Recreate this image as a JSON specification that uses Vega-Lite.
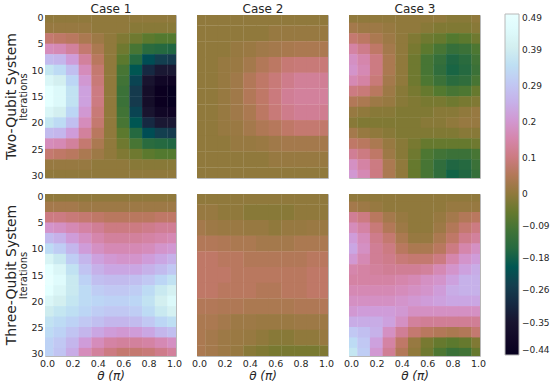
{"$schema":"https://vega.github.io/schema/vega-lite/v6.json","padding":{"left":4,"top":1,"right":0,"bottom":0},"background":"white",
"config":{"font":"DejaVu Sans","view":{"stroke":"#b8b8b8","strokeWidth":1},"axis":{"grid":false,"domain":false,"ticks":false,"labelFontSize":9.5,"labelColor":"#262626","labelPadding":2,"titleColor":"#262626"},"title":{"color":"#262626"}},
"datasets":{
"a":[
{"t":0,"i":0,"v":0},{"t":0.1,"i":0,"v":0},{"t":0.2,"i":0,"v":0},{"t":0.3,"i":0,"v":0},{"t":0.4,"i":0,"v":0},{"t":0.5,"i":0,"v":0},{"t":0.6,"i":0,"v":0},{"t":0.7,"i":0,"v":0},{"t":0.8,"i":0,"v":0},{"t":0.9,"i":0,"v":0},{"t":1,"i":0,"v":0},
{"t":0,"i":2,"v":0.01},{"t":0.1,"i":2,"v":0.01},{"t":0.2,"i":2,"v":0.01},{"t":0.3,"i":2,"v":0.01},{"t":0.4,"i":2,"v":0},{"t":0.5,"i":2,"v":0},{"t":0.6,"i":2,"v":0},{"t":0.7,"i":2,"v":-0.01},{"t":0.8,"i":2,"v":-0.01},{"t":0.9,"i":2,"v":-0.01},{"t":1,"i":2,"v":-0.01},
{"t":0,"i":4,"v":0.08},{"t":0.1,"i":4,"v":0.07},{"t":0.2,"i":4,"v":0.06},{"t":0.3,"i":4,"v":0.04},{"t":0.4,"i":4,"v":0.02},{"t":0.5,"i":4,"v":0},{"t":0.6,"i":4,"v":-0.02},{"t":0.7,"i":4,"v":-0.04},{"t":0.8,"i":4,"v":-0.06},{"t":0.9,"i":4,"v":-0.07},{"t":1,"i":4,"v":-0.07},
{"t":0,"i":6,"v":0.17},{"t":0.1,"i":6,"v":0.16},{"t":0.2,"i":6,"v":0.13},{"t":0.3,"i":6,"v":0.08},{"t":0.4,"i":6,"v":0.04},{"t":0.5,"i":6,"v":0},{"t":0.6,"i":6,"v":-0.04},{"t":0.7,"i":6,"v":-0.09},{"t":0.8,"i":6,"v":-0.14},{"t":0.9,"i":6,"v":-0.15},{"t":1,"i":6,"v":-0.16},
{"t":0,"i":8,"v":0.27},{"t":0.1,"i":8,"v":0.26},{"t":0.2,"i":8,"v":0.21},{"t":0.3,"i":8,"v":0.13},{"t":0.4,"i":8,"v":0.06},{"t":0.5,"i":8,"v":0},{"t":0.6,"i":8,"v":-0.06},{"t":0.7,"i":8,"v":-0.15},{"t":0.8,"i":8,"v":-0.22},{"t":0.9,"i":8,"v":-0.25},{"t":1,"i":8,"v":-0.26},
{"t":0,"i":10,"v":0.37},{"t":0.1,"i":10,"v":0.34},{"t":0.2,"i":10,"v":0.28},{"t":0.3,"i":10,"v":0.17},{"t":0.4,"i":10,"v":0.08},{"t":0.5,"i":10,"v":0},{"t":0.6,"i":10,"v":-0.09},{"t":0.7,"i":10,"v":-0.2},{"t":0.8,"i":10,"v":-0.3},{"t":0.9,"i":10,"v":-0.34},{"t":1,"i":10,"v":-0.34},
{"t":0,"i":12,"v":0.43},{"t":0.1,"i":12,"v":0.4},{"t":0.2,"i":12,"v":0.33},{"t":0.3,"i":12,"v":0.2},{"t":0.4,"i":12,"v":0.09},{"t":0.5,"i":12,"v":0},{"t":0.6,"i":12,"v":-0.1},{"t":0.7,"i":12,"v":-0.24},{"t":0.8,"i":12,"v":-0.35},{"t":0.9,"i":12,"v":-0.4},{"t":1,"i":12,"v":-0.41},
{"t":0,"i":14,"v":0.47},{"t":0.1,"i":14,"v":0.44},{"t":0.2,"i":14,"v":0.36},{"t":0.3,"i":14,"v":0.22},{"t":0.4,"i":14,"v":0.1},{"t":0.5,"i":14,"v":0},{"t":0.6,"i":14,"v":-0.11},{"t":0.7,"i":14,"v":-0.26},{"t":0.8,"i":14,"v":-0.38},{"t":0.9,"i":14,"v":-0.43},{"t":1,"i":14,"v":-0.44},
{"t":0,"i":16,"v":0.47},{"t":0.1,"i":16,"v":0.44},{"t":0.2,"i":16,"v":0.36},{"t":0.3,"i":16,"v":0.22},{"t":0.4,"i":16,"v":0.1},{"t":0.5,"i":16,"v":0},{"t":0.6,"i":16,"v":-0.11},{"t":0.7,"i":16,"v":-0.26},{"t":0.8,"i":16,"v":-0.38},{"t":0.9,"i":16,"v":-0.43},{"t":1,"i":16,"v":-0.44},
{"t":0,"i":18,"v":0.43},{"t":0.1,"i":18,"v":0.4},{"t":0.2,"i":18,"v":0.33},{"t":0.3,"i":18,"v":0.2},{"t":0.4,"i":18,"v":0.09},{"t":0.5,"i":18,"v":0},{"t":0.6,"i":18,"v":-0.1},{"t":0.7,"i":18,"v":-0.24},{"t":0.8,"i":18,"v":-0.35},{"t":0.9,"i":18,"v":-0.4},{"t":1,"i":18,"v":-0.41},
{"t":0,"i":20,"v":0.37},{"t":0.1,"i":20,"v":0.34},{"t":0.2,"i":20,"v":0.28},{"t":0.3,"i":20,"v":0.17},{"t":0.4,"i":20,"v":0.08},{"t":0.5,"i":20,"v":0},{"t":0.6,"i":20,"v":-0.09},{"t":0.7,"i":20,"v":-0.2},{"t":0.8,"i":20,"v":-0.3},{"t":0.9,"i":20,"v":-0.34},{"t":1,"i":20,"v":-0.34},
{"t":0,"i":22,"v":0.27},{"t":0.1,"i":22,"v":0.26},{"t":0.2,"i":22,"v":0.21},{"t":0.3,"i":22,"v":0.13},{"t":0.4,"i":22,"v":0.06},{"t":0.5,"i":22,"v":0},{"t":0.6,"i":22,"v":-0.06},{"t":0.7,"i":22,"v":-0.15},{"t":0.8,"i":22,"v":-0.22},{"t":0.9,"i":22,"v":-0.25},{"t":1,"i":22,"v":-0.26},
{"t":0,"i":24,"v":0.17},{"t":0.1,"i":24,"v":0.16},{"t":0.2,"i":24,"v":0.13},{"t":0.3,"i":24,"v":0.08},{"t":0.4,"i":24,"v":0.04},{"t":0.5,"i":24,"v":0},{"t":0.6,"i":24,"v":-0.04},{"t":0.7,"i":24,"v":-0.09},{"t":0.8,"i":24,"v":-0.14},{"t":0.9,"i":24,"v":-0.15},{"t":1,"i":24,"v":-0.16},
{"t":0,"i":26,"v":0.08},{"t":0.1,"i":26,"v":0.07},{"t":0.2,"i":26,"v":0.06},{"t":0.3,"i":26,"v":0.04},{"t":0.4,"i":26,"v":0.02},{"t":0.5,"i":26,"v":0},{"t":0.6,"i":26,"v":-0.02},{"t":0.7,"i":26,"v":-0.04},{"t":0.8,"i":26,"v":-0.06},{"t":0.9,"i":26,"v":-0.07},{"t":1,"i":26,"v":-0.07},
{"t":0,"i":28,"v":0.01},{"t":0.1,"i":28,"v":0.01},{"t":0.2,"i":28,"v":0.01},{"t":0.3,"i":28,"v":0.01},{"t":0.4,"i":28,"v":0},{"t":0.5,"i":28,"v":0},{"t":0.6,"i":28,"v":0},{"t":0.7,"i":28,"v":-0.01},{"t":0.8,"i":28,"v":-0.01},{"t":0.9,"i":28,"v":-0.01},{"t":1,"i":28,"v":-0.01},
{"t":0,"i":30,"v":0},{"t":0.1,"i":30,"v":0},{"t":0.2,"i":30,"v":0},{"t":0.3,"i":30,"v":0},{"t":0.4,"i":30,"v":0},{"t":0.5,"i":30,"v":0},{"t":0.6,"i":30,"v":0},{"t":0.7,"i":30,"v":0},{"t":0.8,"i":30,"v":0},{"t":0.9,"i":30,"v":0},{"t":1,"i":30,"v":0}],
"b":[
{"t":0,"i":0,"v":0},{"t":0.1,"i":0,"v":0},{"t":0.2,"i":0,"v":0},{"t":0.3,"i":0,"v":0},{"t":0.4,"i":0,"v":0},{"t":0.5,"i":0,"v":0},{"t":0.6,"i":0,"v":0},{"t":0.7,"i":0,"v":0},{"t":0.8,"i":0,"v":0},{"t":0.9,"i":0,"v":0},{"t":1,"i":0,"v":0},
{"t":0,"i":3,"v":0},{"t":0.1,"i":3,"v":0},{"t":0.2,"i":3,"v":0},{"t":0.3,"i":3,"v":0},{"t":0.4,"i":3,"v":0},{"t":0.5,"i":3,"v":0},{"t":0.6,"i":3,"v":0.01},{"t":0.7,"i":3,"v":0.01},{"t":0.8,"i":3,"v":0.01},{"t":0.9,"i":3,"v":0.01},{"t":1,"i":3,"v":0.01},
{"t":0,"i":6,"v":0},{"t":0.1,"i":6,"v":0},{"t":0.2,"i":6,"v":0},{"t":0.3,"i":6,"v":0.01},{"t":0.4,"i":6,"v":0.015},{"t":0.5,"i":6,"v":0.025},{"t":0.6,"i":6,"v":0.03},{"t":0.7,"i":6,"v":0.035},{"t":0.8,"i":6,"v":0.04},{"t":0.9,"i":6,"v":0.04},{"t":1,"i":6,"v":0.04},
{"t":0,"i":9,"v":0},{"t":0.1,"i":9,"v":0},{"t":0.2,"i":9,"v":0.01},{"t":0.3,"i":9,"v":0.015},{"t":0.4,"i":9,"v":0.03},{"t":0.5,"i":9,"v":0.05},{"t":0.6,"i":9,"v":0.065},{"t":0.7,"i":9,"v":0.085},{"t":0.8,"i":9,"v":0.09},{"t":0.9,"i":9,"v":0.09},{"t":1,"i":9,"v":0.09},
{"t":0,"i":12,"v":0},{"t":0.1,"i":12,"v":0},{"t":0.2,"i":12,"v":0.01},{"t":0.3,"i":12,"v":0.025},{"t":0.4,"i":12,"v":0.05},{"t":0.5,"i":12,"v":0.07},{"t":0.6,"i":12,"v":0.09},{"t":0.7,"i":12,"v":0.11},{"t":0.8,"i":12,"v":0.125},{"t":0.9,"i":12,"v":0.125},{"t":1,"i":12,"v":0.12},
{"t":0,"i":15,"v":0},{"t":0.1,"i":15,"v":0},{"t":0.2,"i":15,"v":0.01},{"t":0.3,"i":15,"v":0.025},{"t":0.4,"i":15,"v":0.05},{"t":0.5,"i":15,"v":0.07},{"t":0.6,"i":15,"v":0.095},{"t":0.7,"i":15,"v":0.12},{"t":0.8,"i":15,"v":0.13},{"t":0.9,"i":15,"v":0.13},{"t":1,"i":15,"v":0.13},
{"t":0,"i":18,"v":0},{"t":0.1,"i":18,"v":0},{"t":0.2,"i":18,"v":0.01},{"t":0.3,"i":18,"v":0.025},{"t":0.4,"i":18,"v":0.04},{"t":0.5,"i":18,"v":0.065},{"t":0.6,"i":18,"v":0.09},{"t":0.7,"i":18,"v":0.11},{"t":0.8,"i":18,"v":0.12},{"t":0.9,"i":18,"v":0.12},{"t":1,"i":18,"v":0.115},
{"t":0,"i":21,"v":0},{"t":0.1,"i":21,"v":0},{"t":0.2,"i":21,"v":0.01},{"t":0.3,"i":21,"v":0.015},{"t":0.4,"i":21,"v":0.03},{"t":0.5,"i":21,"v":0.045},{"t":0.6,"i":21,"v":0.055},{"t":0.7,"i":21,"v":0.07},{"t":0.8,"i":21,"v":0.08},{"t":0.9,"i":21,"v":0.08},{"t":1,"i":21,"v":0.075},
{"t":0,"i":24,"v":0},{"t":0.1,"i":24,"v":0},{"t":0.2,"i":24,"v":0},{"t":0.3,"i":24,"v":0.01},{"t":0.4,"i":24,"v":0.01},{"t":0.5,"i":24,"v":0.015},{"t":0.6,"i":24,"v":0.025},{"t":0.7,"i":24,"v":0.03},{"t":0.8,"i":24,"v":0.03},{"t":0.9,"i":24,"v":0.03},{"t":1,"i":24,"v":0.03},
{"t":0,"i":27,"v":0},{"t":0.1,"i":27,"v":0},{"t":0.2,"i":27,"v":0},{"t":0.3,"i":27,"v":0},{"t":0.4,"i":27,"v":0},{"t":0.5,"i":27,"v":0},{"t":0.6,"i":27,"v":0.01},{"t":0.7,"i":27,"v":0.01},{"t":0.8,"i":27,"v":0.01},{"t":0.9,"i":27,"v":0.01},{"t":1,"i":27,"v":0.01},
{"t":0,"i":30,"v":0},{"t":0.1,"i":30,"v":0},{"t":0.2,"i":30,"v":0},{"t":0.3,"i":30,"v":0},{"t":0.4,"i":30,"v":0},{"t":0.5,"i":30,"v":0},{"t":0.6,"i":30,"v":0},{"t":0.7,"i":30,"v":0},{"t":0.8,"i":30,"v":0},{"t":0.9,"i":30,"v":0},{"t":1,"i":30,"v":0}],
"c":[
{"t":0,"i":0,"v":0},{"t":0.1,"i":0,"v":0},{"t":0.2,"i":0,"v":0},{"t":0.3,"i":0,"v":0},{"t":0.4,"i":0,"v":0},{"t":0.5,"i":0,"v":0},{"t":0.6,"i":0,"v":0},{"t":0.7,"i":0,"v":0},{"t":0.8,"i":0,"v":-0.01},{"t":0.9,"i":0,"v":-0.01},{"t":1,"i":0,"v":0},
{"t":0,"i":2,"v":0.03},{"t":0.1,"i":2,"v":0.02},{"t":0.2,"i":2,"v":0.02},{"t":0.3,"i":2,"v":0.01},{"t":0.4,"i":2,"v":0},{"t":0.5,"i":2,"v":0},{"t":0.6,"i":2,"v":-0.01},{"t":0.7,"i":2,"v":-0.02},{"t":0.8,"i":2,"v":-0.02},{"t":0.9,"i":2,"v":-0.02},{"t":1,"i":2,"v":-0.01},
{"t":0,"i":4,"v":0.08},{"t":0.1,"i":4,"v":0.065},{"t":0.2,"i":4,"v":0.04},{"t":0.3,"i":4,"v":0.02},{"t":0.4,"i":4,"v":0},{"t":0.5,"i":4,"v":-0.02},{"t":0.6,"i":4,"v":-0.04},{"t":0.7,"i":4,"v":-0.05},{"t":0.8,"i":4,"v":-0.07},{"t":0.9,"i":4,"v":-0.06},{"t":1,"i":4,"v":-0.04},
{"t":0,"i":6,"v":0.14},{"t":0.1,"i":6,"v":0.11},{"t":0.2,"i":6,"v":0.07},{"t":0.3,"i":6,"v":0.03},{"t":0.4,"i":6,"v":0},{"t":0.5,"i":6,"v":-0.03},{"t":0.6,"i":6,"v":-0.06},{"t":0.7,"i":6,"v":-0.09},{"t":0.8,"i":6,"v":-0.12},{"t":0.9,"i":6,"v":-0.11},{"t":1,"i":6,"v":-0.08},
{"t":0,"i":8,"v":0.18},{"t":0.1,"i":8,"v":0.15},{"t":0.2,"i":8,"v":0.1},{"t":0.3,"i":8,"v":0.04},{"t":0.4,"i":8,"v":0},{"t":0.5,"i":8,"v":-0.04},{"t":0.6,"i":8,"v":-0.09},{"t":0.7,"i":8,"v":-0.12},{"t":0.8,"i":8,"v":-0.16},{"t":0.9,"i":8,"v":-0.14},{"t":1,"i":8,"v":-0.1},
{"t":0,"i":10,"v":0.19},{"t":0.1,"i":10,"v":0.16},{"t":0.2,"i":10,"v":0.1},{"t":0.3,"i":10,"v":0.04},{"t":0.4,"i":10,"v":0},{"t":0.5,"i":10,"v":-0.04},{"t":0.6,"i":10,"v":-0.09},{"t":0.7,"i":10,"v":-0.13},{"t":0.8,"i":10,"v":-0.165},{"t":0.9,"i":10,"v":-0.15},{"t":1,"i":10,"v":-0.11},
{"t":0,"i":12,"v":0.16},{"t":0.1,"i":12,"v":0.14},{"t":0.2,"i":12,"v":0.09},{"t":0.3,"i":12,"v":0.03},{"t":0.4,"i":12,"v":0},{"t":0.5,"i":12,"v":-0.04},{"t":0.6,"i":12,"v":-0.08},{"t":0.7,"i":12,"v":-0.11},{"t":0.8,"i":12,"v":-0.14},{"t":0.9,"i":12,"v":-0.13},{"t":1,"i":12,"v":-0.09},
{"t":0,"i":14,"v":0.1},{"t":0.1,"i":14,"v":0.09},{"t":0.2,"i":14,"v":0.06},{"t":0.3,"i":14,"v":0.02},{"t":0.4,"i":14,"v":-0.01},{"t":0.5,"i":14,"v":-0.03},{"t":0.6,"i":14,"v":-0.05},{"t":0.7,"i":14,"v":-0.07},{"t":0.8,"i":14,"v":-0.09},{"t":0.9,"i":14,"v":-0.08},{"t":1,"i":14,"v":-0.05},
{"t":0,"i":16,"v":0.05},{"t":0.1,"i":16,"v":0.04},{"t":0.2,"i":16,"v":0.02},{"t":0.3,"i":16,"v":0.01},{"t":0.4,"i":16,"v":-0.01},{"t":0.5,"i":16,"v":-0.02},{"t":0.6,"i":16,"v":-0.03},{"t":0.7,"i":16,"v":-0.03},{"t":0.8,"i":16,"v":-0.04},{"t":0.9,"i":16,"v":-0.03},{"t":1,"i":16,"v":-0.02},
{"t":0,"i":18,"v":0.01},{"t":0.1,"i":18,"v":0},{"t":0.2,"i":18,"v":-0.01},{"t":0.3,"i":18,"v":-0.01},{"t":0.4,"i":18,"v":-0.02},{"t":0.5,"i":18,"v":-0.02},{"t":0.6,"i":18,"v":-0.02},{"t":0.7,"i":18,"v":-0.01},{"t":0.8,"i":18,"v":-0.01},{"t":0.9,"i":18,"v":0},{"t":1,"i":18,"v":0.01},
{"t":0,"i":20,"v":-0.01},{"t":0.1,"i":20,"v":-0.02},{"t":0.2,"i":20,"v":-0.02},{"t":0.3,"i":20,"v":-0.02},{"t":0.4,"i":20,"v":-0.02},{"t":0.5,"i":20,"v":-0.02},{"t":0.6,"i":20,"v":-0.01},{"t":0.7,"i":20,"v":-0.01},{"t":0.8,"i":20,"v":0},{"t":0.9,"i":20,"v":0.01},{"t":1,"i":20,"v":0.01},
{"t":0,"i":22,"v":0.03},{"t":0.1,"i":22,"v":0.01},{"t":0.2,"i":22,"v":0},{"t":0.3,"i":22,"v":-0.01},{"t":0.4,"i":22,"v":-0.02},{"t":0.5,"i":22,"v":-0.02},{"t":0.6,"i":22,"v":-0.02},{"t":0.7,"i":22,"v":-0.02},{"t":0.8,"i":22,"v":-0.02},{"t":0.9,"i":22,"v":-0.01},{"t":1,"i":22,"v":-0.01},
{"t":0,"i":24,"v":0.07},{"t":0.1,"i":24,"v":0.06},{"t":0.2,"i":24,"v":0.04},{"t":0.3,"i":24,"v":0.01},{"t":0.4,"i":24,"v":-0.01},{"t":0.5,"i":24,"v":-0.03},{"t":0.6,"i":24,"v":-0.05},{"t":0.7,"i":24,"v":-0.05},{"t":0.8,"i":24,"v":-0.05},{"t":0.9,"i":24,"v":-0.05},{"t":1,"i":24,"v":-0.04},
{"t":0,"i":26,"v":0.12},{"t":0.1,"i":26,"v":0.1},{"t":0.2,"i":26,"v":0.07},{"t":0.3,"i":26,"v":0.02},{"t":0.4,"i":26,"v":-0.01},{"t":0.5,"i":26,"v":-0.04},{"t":0.6,"i":26,"v":-0.08},{"t":0.7,"i":26,"v":-0.1},{"t":0.8,"i":26,"v":-0.11},{"t":0.9,"i":26,"v":-0.11},{"t":1,"i":26,"v":-0.09},
{"t":0,"i":28,"v":0.18},{"t":0.1,"i":28,"v":0.14},{"t":0.2,"i":28,"v":0.1},{"t":0.3,"i":28,"v":0.04},{"t":0.4,"i":28,"v":0},{"t":0.5,"i":28,"v":-0.05},{"t":0.6,"i":28,"v":-0.09},{"t":0.7,"i":28,"v":-0.13},{"t":0.8,"i":28,"v":-0.16},{"t":0.9,"i":28,"v":-0.15},{"t":1,"i":28,"v":-0.11},
{"t":0,"i":30,"v":0.2},{"t":0.1,"i":30,"v":0.16},{"t":0.2,"i":30,"v":0.1},{"t":0.3,"i":30,"v":0.04},{"t":0.4,"i":30,"v":0},{"t":0.5,"i":30,"v":-0.05},{"t":0.6,"i":30,"v":-0.09},{"t":0.7,"i":30,"v":-0.13},{"t":0.8,"i":30,"v":-0.17},{"t":0.9,"i":30,"v":-0.16},{"t":1,"i":30,"v":-0.12}],
"d":[
{"t":0,"i":0,"v":0},{"t":0.1,"i":0,"v":0},{"t":0.2,"i":0,"v":0},{"t":0.3,"i":0,"v":0},{"t":0.4,"i":0,"v":0},{"t":0.5,"i":0,"v":0},{"t":0.6,"i":0,"v":0},{"t":0.7,"i":0,"v":0},{"t":0.8,"i":0,"v":0},{"t":0.9,"i":0,"v":0},{"t":1,"i":0,"v":0},
{"t":0,"i":2,"v":0.03},{"t":0.1,"i":2,"v":0.03},{"t":0.2,"i":2,"v":0.03},{"t":0.3,"i":2,"v":0.02},{"t":0.4,"i":2,"v":0.02},{"t":0.5,"i":2,"v":0.02},{"t":0.6,"i":2,"v":0.02},{"t":0.7,"i":2,"v":0.02},{"t":0.8,"i":2,"v":0.02},{"t":0.9,"i":2,"v":0.02},{"t":1,"i":2,"v":0.02},
{"t":0,"i":4,"v":0.1},{"t":0.1,"i":4,"v":0.1},{"t":0.2,"i":4,"v":0.09},{"t":0.3,"i":4,"v":0.08},{"t":0.4,"i":4,"v":0.07},{"t":0.5,"i":4,"v":0.06},{"t":0.6,"i":4,"v":0.06},{"t":0.7,"i":4,"v":0.06},{"t":0.8,"i":4,"v":0.06},{"t":0.9,"i":4,"v":0.07},{"t":1,"i":4,"v":0.07},
{"t":0,"i":6,"v":0.19},{"t":0.1,"i":6,"v":0.18},{"t":0.2,"i":6,"v":0.16},{"t":0.3,"i":6,"v":0.14},{"t":0.4,"i":6,"v":0.12},{"t":0.5,"i":6,"v":0.1},{"t":0.6,"i":6,"v":0.1},{"t":0.7,"i":6,"v":0.1},{"t":0.8,"i":6,"v":0.11},{"t":0.9,"i":6,"v":0.12},{"t":1,"i":6,"v":0.12},
{"t":0,"i":8,"v":0.27},{"t":0.1,"i":8,"v":0.25},{"t":0.2,"i":8,"v":0.21},{"t":0.3,"i":8,"v":0.18},{"t":0.4,"i":8,"v":0.15},{"t":0.5,"i":8,"v":0.13},{"t":0.6,"i":8,"v":0.13},{"t":0.7,"i":8,"v":0.13},{"t":0.8,"i":8,"v":0.14},{"t":0.9,"i":8,"v":0.15},{"t":1,"i":8,"v":0.16},
{"t":0,"i":10,"v":0.34},{"t":0.1,"i":10,"v":0.31},{"t":0.2,"i":10,"v":0.26},{"t":0.3,"i":10,"v":0.21},{"t":0.4,"i":10,"v":0.18},{"t":0.5,"i":10,"v":0.16},{"t":0.6,"i":10,"v":0.16},{"t":0.7,"i":10,"v":0.16},{"t":0.8,"i":10,"v":0.17},{"t":0.9,"i":10,"v":0.19},{"t":1,"i":10,"v":0.2},
{"t":0,"i":12,"v":0.42},{"t":0.1,"i":12,"v":0.38},{"t":0.2,"i":12,"v":0.31},{"t":0.3,"i":12,"v":0.26},{"t":0.4,"i":12,"v":0.22},{"t":0.5,"i":12,"v":0.2},{"t":0.6,"i":12,"v":0.19},{"t":0.7,"i":12,"v":0.19},{"t":0.8,"i":12,"v":0.21},{"t":0.9,"i":12,"v":0.23},{"t":1,"i":12,"v":0.25},
{"t":0,"i":14,"v":0.47},{"t":0.1,"i":14,"v":0.43},{"t":0.2,"i":14,"v":0.36},{"t":0.3,"i":14,"v":0.29},{"t":0.4,"i":14,"v":0.25},{"t":0.5,"i":14,"v":0.23},{"t":0.6,"i":14,"v":0.23},{"t":0.7,"i":14,"v":0.23},{"t":0.8,"i":14,"v":0.25},{"t":0.9,"i":14,"v":0.27},{"t":1,"i":14,"v":0.3},
{"t":0,"i":16,"v":0.49},{"t":0.1,"i":16,"v":0.45},{"t":0.2,"i":16,"v":0.38},{"t":0.3,"i":16,"v":0.32},{"t":0.4,"i":16,"v":0.28},{"t":0.5,"i":16,"v":0.27},{"t":0.6,"i":16,"v":0.27},{"t":0.7,"i":16,"v":0.28},{"t":0.8,"i":16,"v":0.3},{"t":0.9,"i":16,"v":0.33},{"t":1,"i":16,"v":0.36},
{"t":0,"i":18,"v":0.47},{"t":0.1,"i":18,"v":0.43},{"t":0.2,"i":18,"v":0.38},{"t":0.3,"i":18,"v":0.34},{"t":0.4,"i":18,"v":0.31},{"t":0.5,"i":18,"v":0.3},{"t":0.6,"i":18,"v":0.3},{"t":0.7,"i":18,"v":0.31},{"t":0.8,"i":18,"v":0.34},{"t":0.9,"i":18,"v":0.38},{"t":1,"i":18,"v":0.41},
{"t":0,"i":20,"v":0.43},{"t":0.1,"i":20,"v":0.4},{"t":0.2,"i":20,"v":0.37},{"t":0.3,"i":20,"v":0.34},{"t":0.4,"i":20,"v":0.33},{"t":0.5,"i":20,"v":0.32},{"t":0.6,"i":20,"v":0.32},{"t":0.7,"i":20,"v":0.33},{"t":0.8,"i":20,"v":0.36},{"t":0.9,"i":20,"v":0.4},{"t":1,"i":20,"v":0.44},
{"t":0,"i":22,"v":0.39},{"t":0.1,"i":22,"v":0.37},{"t":0.2,"i":22,"v":0.35},{"t":0.3,"i":22,"v":0.33},{"t":0.4,"i":22,"v":0.31},{"t":0.5,"i":22,"v":0.3},{"t":0.6,"i":22,"v":0.3},{"t":0.7,"i":22,"v":0.31},{"t":0.8,"i":22,"v":0.34},{"t":0.9,"i":22,"v":0.38},{"t":1,"i":22,"v":0.41},
{"t":0,"i":24,"v":0.36},{"t":0.1,"i":24,"v":0.34},{"t":0.2,"i":24,"v":0.32},{"t":0.3,"i":24,"v":0.3},{"t":0.4,"i":24,"v":0.28},{"t":0.5,"i":24,"v":0.26},{"t":0.6,"i":24,"v":0.26},{"t":0.7,"i":24,"v":0.27},{"t":0.8,"i":24,"v":0.3},{"t":0.9,"i":24,"v":0.33},{"t":1,"i":24,"v":0.35},
{"t":0,"i":26,"v":0.34},{"t":0.1,"i":26,"v":0.32},{"t":0.2,"i":26,"v":0.29},{"t":0.3,"i":26,"v":0.26},{"t":0.4,"i":26,"v":0.23},{"t":0.5,"i":26,"v":0.21},{"t":0.6,"i":26,"v":0.2},{"t":0.7,"i":26,"v":0.21},{"t":0.8,"i":26,"v":0.23},{"t":0.9,"i":26,"v":0.26},{"t":1,"i":26,"v":0.28},
{"t":0,"i":28,"v":0.32},{"t":0.1,"i":28,"v":0.3},{"t":0.2,"i":28,"v":0.26},{"t":0.3,"i":28,"v":0.21},{"t":0.4,"i":28,"v":0.17},{"t":0.5,"i":28,"v":0.14},{"t":0.6,"i":28,"v":0.13},{"t":0.7,"i":28,"v":0.13},{"t":0.8,"i":28,"v":0.14},{"t":0.9,"i":28,"v":0.16},{"t":1,"i":28,"v":0.18},
{"t":0,"i":30,"v":0.32},{"t":0.1,"i":30,"v":0.29},{"t":0.2,"i":30,"v":0.24},{"t":0.3,"i":30,"v":0.17},{"t":0.4,"i":30,"v":0.13},{"t":0.5,"i":30,"v":0.1},{"t":0.6,"i":30,"v":0.08},{"t":0.7,"i":30,"v":0.08},{"t":0.8,"i":30,"v":0.09},{"t":0.9,"i":30,"v":0.11},{"t":1,"i":30,"v":0.13}],
"e":[
{"t":0,"i":0,"v":0},{"t":0.1,"i":0,"v":0},{"t":0.2,"i":0,"v":0},{"t":0.3,"i":0,"v":0},{"t":0.4,"i":0,"v":0},{"t":0.5,"i":0,"v":0},{"t":0.6,"i":0,"v":0},{"t":0.7,"i":0,"v":0},{"t":0.8,"i":0,"v":0},{"t":0.9,"i":0,"v":0},{"t":1,"i":0,"v":0},
{"t":0,"i":3,"v":0.01},{"t":0.1,"i":3,"v":0.01},{"t":0.2,"i":3,"v":0},{"t":0.3,"i":3,"v":0},{"t":0.4,"i":3,"v":-0.01},{"t":0.5,"i":3,"v":-0.01},{"t":0.6,"i":3,"v":-0.01},{"t":0.7,"i":3,"v":-0.01},{"t":0.8,"i":3,"v":0},{"t":0.9,"i":3,"v":0},{"t":1,"i":3,"v":0},
{"t":0,"i":6,"v":0.03},{"t":0.1,"i":6,"v":0.02},{"t":0.2,"i":6,"v":0.015},{"t":0.3,"i":6,"v":0.015},{"t":0.4,"i":6,"v":0.01},{"t":0.5,"i":6,"v":0.01},{"t":0.6,"i":6,"v":0},{"t":0.7,"i":6,"v":0.01},{"t":0.8,"i":6,"v":0.01},{"t":0.9,"i":6,"v":0.015},{"t":1,"i":6,"v":0.015},
{"t":0,"i":9,"v":0.05},{"t":0.1,"i":9,"v":0.05},{"t":0.2,"i":9,"v":0.045},{"t":0.3,"i":9,"v":0.04},{"t":0.4,"i":9,"v":0.04},{"t":0.5,"i":9,"v":0.03},{"t":0.6,"i":9,"v":0.03},{"t":0.7,"i":9,"v":0.03},{"t":0.8,"i":9,"v":0.04},{"t":0.9,"i":9,"v":0.04},{"t":1,"i":9,"v":0.04},
{"t":0,"i":12,"v":0.07},{"t":0.1,"i":12,"v":0.07},{"t":0.2,"i":12,"v":0.06},{"t":0.3,"i":12,"v":0.06},{"t":0.4,"i":12,"v":0.05},{"t":0.5,"i":12,"v":0.05},{"t":0.6,"i":12,"v":0.05},{"t":0.7,"i":12,"v":0.05},{"t":0.8,"i":12,"v":0.05},{"t":0.9,"i":12,"v":0.06},{"t":1,"i":12,"v":0.06},
{"t":0,"i":15,"v":0.07},{"t":0.1,"i":15,"v":0.07},{"t":0.2,"i":15,"v":0.07},{"t":0.3,"i":15,"v":0.06},{"t":0.4,"i":15,"v":0.06},{"t":0.5,"i":15,"v":0.06},{"t":0.6,"i":15,"v":0.06},{"t":0.7,"i":15,"v":0.06},{"t":0.8,"i":15,"v":0.06},{"t":0.9,"i":15,"v":0.07},{"t":1,"i":15,"v":0.07},
{"t":0,"i":18,"v":0.07},{"t":0.1,"i":18,"v":0.07},{"t":0.2,"i":18,"v":0.06},{"t":0.3,"i":18,"v":0.06},{"t":0.4,"i":18,"v":0.06},{"t":0.5,"i":18,"v":0.05},{"t":0.6,"i":18,"v":0.05},{"t":0.7,"i":18,"v":0.06},{"t":0.8,"i":18,"v":0.06},{"t":0.9,"i":18,"v":0.07},{"t":1,"i":18,"v":0.07},
{"t":0,"i":21,"v":0.05},{"t":0.1,"i":21,"v":0.05},{"t":0.2,"i":21,"v":0.045},{"t":0.3,"i":21,"v":0.045},{"t":0.4,"i":21,"v":0.04},{"t":0.5,"i":21,"v":0.04},{"t":0.6,"i":21,"v":0.04},{"t":0.7,"i":21,"v":0.04},{"t":0.8,"i":21,"v":0.045},{"t":0.9,"i":21,"v":0.045},{"t":1,"i":21,"v":0.05},
{"t":0,"i":24,"v":0.04},{"t":0.1,"i":24,"v":0.04},{"t":0.2,"i":24,"v":0.03},{"t":0.3,"i":24,"v":0.02},{"t":0.4,"i":24,"v":0.02},{"t":0.5,"i":24,"v":0.015},{"t":0.6,"i":24,"v":0.015},{"t":0.7,"i":24,"v":0.015},{"t":0.8,"i":24,"v":0.02},{"t":0.9,"i":24,"v":0.02},{"t":1,"i":24,"v":0.02},
{"t":0,"i":27,"v":0.04},{"t":0.1,"i":27,"v":0.03},{"t":0.2,"i":27,"v":0.02},{"t":0.3,"i":27,"v":0.015},{"t":0.4,"i":27,"v":0.01},{"t":0.5,"i":27,"v":0},{"t":0.6,"i":27,"v":-0.01},{"t":0.7,"i":27,"v":-0.01},{"t":0.8,"i":27,"v":0},{"t":0.9,"i":27,"v":0},{"t":1,"i":27,"v":0.01},
{"t":0,"i":30,"v":0.04},{"t":0.1,"i":30,"v":0.03},{"t":0.2,"i":30,"v":0.02},{"t":0.3,"i":30,"v":0.01},{"t":0.4,"i":30,"v":-0.01},{"t":0.5,"i":30,"v":-0.02},{"t":0.6,"i":30,"v":-0.03},{"t":0.7,"i":30,"v":-0.03},{"t":0.8,"i":30,"v":-0.03},{"t":0.9,"i":30,"v":-0.03},{"t":1,"i":30,"v":-0.02}],
"f":[
{"t":0,"i":0,"v":0},{"t":0.1,"i":0,"v":0},{"t":0.2,"i":0,"v":0},{"t":0.3,"i":0,"v":0},{"t":0.4,"i":0,"v":0},{"t":0.5,"i":0,"v":0},{"t":0.6,"i":0,"v":0},{"t":0.7,"i":0,"v":0},{"t":0.8,"i":0,"v":0},{"t":0.9,"i":0,"v":0},{"t":1,"i":0,"v":0},
{"t":0,"i":2,"v":0.03},{"t":0.1,"i":2,"v":0.02},{"t":0.2,"i":2,"v":0.01},{"t":0.3,"i":2,"v":0},{"t":0.4,"i":2,"v":0},{"t":0.5,"i":2,"v":0},{"t":0.6,"i":2,"v":0},{"t":0.7,"i":2,"v":0},{"t":0.8,"i":2,"v":0.01},{"t":0.9,"i":2,"v":0.01},{"t":1,"i":2,"v":0.01},
{"t":0,"i":4,"v":0.12},{"t":0.1,"i":4,"v":0.1},{"t":0.2,"i":4,"v":0.06},{"t":0.3,"i":4,"v":0.03},{"t":0.4,"i":4,"v":0.01},{"t":0.5,"i":4,"v":0},{"t":0.6,"i":4,"v":0},{"t":0.7,"i":4,"v":0.01},{"t":0.8,"i":4,"v":0.03},{"t":0.9,"i":4,"v":0.05},{"t":1,"i":4,"v":0.06},
{"t":0,"i":6,"v":0.17},{"t":0.1,"i":6,"v":0.14},{"t":0.2,"i":6,"v":0.09},{"t":0.3,"i":6,"v":0.05},{"t":0.4,"i":6,"v":0.02},{"t":0.5,"i":6,"v":0},{"t":0.6,"i":6,"v":0},{"t":0.7,"i":6,"v":0.02},{"t":0.8,"i":6,"v":0.05},{"t":0.9,"i":6,"v":0.08},{"t":1,"i":6,"v":0.1},
{"t":0,"i":8,"v":0.21},{"t":0.1,"i":8,"v":0.17},{"t":0.2,"i":8,"v":0.11},{"t":0.3,"i":8,"v":0.08},{"t":0.4,"i":8,"v":0.04},{"t":0.5,"i":8,"v":0.01},{"t":0.6,"i":8,"v":0.01},{"t":0.7,"i":8,"v":0.04},{"t":0.8,"i":8,"v":0.07},{"t":0.9,"i":8,"v":0.11},{"t":1,"i":8,"v":0.13},
{"t":0,"i":10,"v":0.23},{"t":0.1,"i":10,"v":0.18},{"t":0.2,"i":10,"v":0.12},{"t":0.3,"i":10,"v":0.1},{"t":0.4,"i":10,"v":0.06},{"t":0.5,"i":10,"v":0.04},{"t":0.6,"i":10,"v":0.04},{"t":0.7,"i":10,"v":0.06},{"t":0.8,"i":10,"v":0.1},{"t":0.9,"i":10,"v":0.15},{"t":1,"i":10,"v":0.18},
{"t":0,"i":12,"v":0.2},{"t":0.1,"i":12,"v":0.16},{"t":0.2,"i":12,"v":0.12},{"t":0.3,"i":12,"v":0.11},{"t":0.4,"i":12,"v":0.09},{"t":0.5,"i":12,"v":0.08},{"t":0.6,"i":12,"v":0.08},{"t":0.7,"i":12,"v":0.1},{"t":0.8,"i":12,"v":0.15},{"t":0.9,"i":12,"v":0.19},{"t":1,"i":12,"v":0.21},
{"t":0,"i":14,"v":0.15},{"t":0.1,"i":14,"v":0.14},{"t":0.2,"i":14,"v":0.13},{"t":0.3,"i":14,"v":0.12},{"t":0.4,"i":14,"v":0.12},{"t":0.5,"i":14,"v":0.12},{"t":0.6,"i":14,"v":0.13},{"t":0.7,"i":14,"v":0.16},{"t":0.8,"i":14,"v":0.19},{"t":0.9,"i":14,"v":0.22},{"t":1,"i":14,"v":0.24},
{"t":0,"i":16,"v":0.14},{"t":0.1,"i":16,"v":0.14},{"t":0.2,"i":16,"v":0.14},{"t":0.3,"i":16,"v":0.14},{"t":0.4,"i":16,"v":0.15},{"t":0.5,"i":16,"v":0.16},{"t":0.6,"i":16,"v":0.18},{"t":0.7,"i":16,"v":0.19},{"t":0.8,"i":16,"v":0.22},{"t":0.9,"i":16,"v":0.25},{"t":1,"i":16,"v":0.25},
{"t":0,"i":18,"v":0.16},{"t":0.1,"i":18,"v":0.16},{"t":0.2,"i":18,"v":0.16},{"t":0.3,"i":18,"v":0.16},{"t":0.4,"i":18,"v":0.17},{"t":0.5,"i":18,"v":0.18},{"t":0.6,"i":18,"v":0.19},{"t":0.7,"i":18,"v":0.21},{"t":0.8,"i":18,"v":0.24},{"t":0.9,"i":18,"v":0.25},{"t":1,"i":18,"v":0.25},
{"t":0,"i":20,"v":0.18},{"t":0.1,"i":20,"v":0.18},{"t":0.2,"i":20,"v":0.18},{"t":0.3,"i":20,"v":0.18},{"t":0.4,"i":20,"v":0.19},{"t":0.5,"i":20,"v":0.2},{"t":0.6,"i":20,"v":0.21},{"t":0.7,"i":20,"v":0.22},{"t":0.8,"i":20,"v":0.23},{"t":0.9,"i":20,"v":0.23},{"t":1,"i":20,"v":0.23},
{"t":0,"i":22,"v":0.2},{"t":0.1,"i":22,"v":0.21},{"t":0.2,"i":22,"v":0.21},{"t":0.3,"i":22,"v":0.21},{"t":0.4,"i":22,"v":0.2},{"t":0.5,"i":22,"v":0.18},{"t":0.6,"i":22,"v":0.18},{"t":0.7,"i":22,"v":0.18},{"t":0.8,"i":22,"v":0.18},{"t":0.9,"i":22,"v":0.18},{"t":1,"i":22,"v":0.18},
{"t":0,"i":24,"v":0.24},{"t":0.1,"i":24,"v":0.24},{"t":0.2,"i":24,"v":0.24},{"t":0.3,"i":24,"v":0.22},{"t":0.4,"i":24,"v":0.18},{"t":0.5,"i":24,"v":0.13},{"t":0.6,"i":24,"v":0.12},{"t":0.7,"i":24,"v":0.12},{"t":0.8,"i":24,"v":0.12},{"t":0.9,"i":24,"v":0.12},{"t":1,"i":24,"v":0.12},
{"t":0,"i":26,"v":0.3},{"t":0.1,"i":26,"v":0.28},{"t":0.2,"i":26,"v":0.25},{"t":0.3,"i":26,"v":0.18},{"t":0.4,"i":26,"v":0.12},{"t":0.5,"i":26,"v":0.08},{"t":0.6,"i":26,"v":0.06},{"t":0.7,"i":26,"v":0.05},{"t":0.8,"i":26,"v":0.04},{"t":0.9,"i":26,"v":0.05},{"t":1,"i":26,"v":0.08},
{"t":0,"i":28,"v":0.34},{"t":0.1,"i":28,"v":0.3},{"t":0.2,"i":28,"v":0.22},{"t":0.3,"i":28,"v":0.14},{"t":0.4,"i":28,"v":0.07},{"t":0.5,"i":28,"v":0.01},{"t":0.6,"i":28,"v":-0.03},{"t":0.7,"i":28,"v":-0.05},{"t":0.8,"i":28,"v":-0.06},{"t":0.9,"i":28,"v":-0.05},{"t":1,"i":28,"v":-0.02},
{"t":0,"i":30,"v":0.37},{"t":0.1,"i":30,"v":0.31},{"t":0.2,"i":30,"v":0.2},{"t":0.3,"i":30,"v":0.12},{"t":0.4,"i":30,"v":0.05},{"t":0.5,"i":30,"v":0},{"t":0.6,"i":30,"v":-0.04},{"t":0.7,"i":30,"v":-0.08},{"t":0.8,"i":30,"v":-0.11},{"t":0.9,"i":30,"v":-0.1},{"t":1,"i":30,"v":-0.05}]
},
"columns":3,"spacing":{"row":16,"column":21},"bounds":"flush",
"concat":[
{"width":131,"height":163,"title":{"text":"Two-Qubit System","orient":"left","anchor":"middle","fontSize":14,"fontWeight":"normal","offset":0},"data":{"name":"a"},"mark":{"type":"rect","width":13,"height":11,"clip":true},"encoding":{"x":{"field":"t","type":"quantitative","scale":{"domain":[-0.0161,1.0161],"nice":false,"zero":false},"axis":{"orient":"top","labels":false,"title":"Case 1","titleFontSize":12,"titleFontWeight":"normal","titlePadding":0}},"y":{"field":"i","type":"quantitative","scale":{"domain":[30.5,-0.5],"nice":false,"zero":false},"axis":{"values":[0,5,10,15,20,25,30],"title":"Iterations","titleFontSize":10,"titleFontWeight":"normal","titlePadding":2}},"color":{"field":"v","type":"quantitative","scale":{"domain":[-0.44,0.49],"range":["#000000","#1a1530","#163d4e","#1f6642","#54792f","#a07949","#d07e93","#cf9cda","#c1caf3","#d2eeef","#ffffff"]},"legend":{"orient":"none","legendX":460,"legendY":-1,"title":null,"gradientLength":341,"gradientThickness":14,"gradientStrokeColor":"#b8b8b8","gradientStrokeWidth":1,"values":[0.49,0.392,0.294,0.196,0.098,0,-0.088,-0.176,-0.264,-0.352,-0.44],"format":".2~f","labelFontSize":9,"labelColor":"#262626","labelOffset":3,"labelOverlap":false}}}},
{"width":131,"height":163,"data":{"name":"b"},"mark":{"type":"rect","width":13,"height":16,"clip":true},"encoding":{"x":{"field":"t","type":"quantitative","scale":{"domain":[-0.0161,1.0161],"nice":false,"zero":false},"axis":{"orient":"top","labels":false,"title":"Case 2","titleFontSize":12,"titleFontWeight":"normal","titlePadding":0}},"y":{"field":"i","type":"quantitative","scale":{"domain":[30.5,-0.5],"nice":false,"zero":false},"axis":null},"color":{"field":"v","type":"quantitative","scale":{"domain":[-0.44,0.49]},"legend":null}}},
{"width":131,"height":163,"data":{"name":"c"},"mark":{"type":"rect","width":13,"height":11,"clip":true},"encoding":{"x":{"field":"t","type":"quantitative","scale":{"domain":[-0.0161,1.0161],"nice":false,"zero":false},"axis":{"orient":"top","labels":false,"title":"Case 3","titleFontSize":12,"titleFontWeight":"normal","titlePadding":0}},"y":{"field":"i","type":"quantitative","scale":{"domain":[30.5,-0.5],"nice":false,"zero":false},"axis":null},"color":{"field":"v","type":"quantitative","scale":{"domain":[-0.44,0.49]},"legend":null}}},
{"width":131,"height":162,"title":{"text":"Three-Qubit System","orient":"left","anchor":"middle","fontSize":14,"fontWeight":"normal","offset":0},"data":{"name":"d"},"mark":{"type":"rect","width":13,"height":11,"clip":true},"encoding":{"x":{"field":"t","type":"quantitative","scale":{"domain":[-0.0161,1.0161],"nice":false,"zero":false},"axis":{"values":[0,0.2,0.4,0.6,0.8,1],"format":".1f","title":"θ (π)","titleFontSize":12,"titleFontStyle":"italic","titleFontWeight":"normal","titlePadding":3}},"y":{"field":"i","type":"quantitative","scale":{"domain":[30.5,-0.5],"nice":false,"zero":false},"axis":{"values":[0,5,10,15,20,25,30],"title":"Iterations","titleFontSize":10,"titleFontWeight":"normal","titlePadding":2}},"color":{"field":"v","type":"quantitative","scale":{"domain":[-0.44,0.49]},"legend":null}}},
{"width":131,"height":162,"data":{"name":"e"},"mark":{"type":"rect","width":13,"height":16,"clip":true},"encoding":{"x":{"field":"t","type":"quantitative","scale":{"domain":[-0.0161,1.0161],"nice":false,"zero":false},"axis":{"values":[0,0.2,0.4,0.6,0.8,1],"format":".1f","title":"θ (π)","titleFontSize":12,"titleFontStyle":"italic","titleFontWeight":"normal","titlePadding":3}},"y":{"field":"i","type":"quantitative","scale":{"domain":[30.5,-0.5],"nice":false,"zero":false},"axis":null},"color":{"field":"v","type":"quantitative","scale":{"domain":[-0.44,0.49]},"legend":null}}},
{"width":131,"height":162,"data":{"name":"f"},"mark":{"type":"rect","width":13,"height":11,"clip":true},"encoding":{"x":{"field":"t","type":"quantitative","scale":{"domain":[-0.0161,1.0161],"nice":false,"zero":false},"axis":{"values":[0,0.2,0.4,0.6,0.8,1],"format":".1f","title":"θ (π)","titleFontSize":12,"titleFontStyle":"italic","titleFontWeight":"normal","titlePadding":3}},"y":{"field":"i","type":"quantitative","scale":{"domain":[30.5,-0.5],"nice":false,"zero":false},"axis":null},"color":{"field":"v","type":"quantitative","scale":{"domain":[-0.44,0.49]},"legend":null}}}
]}
